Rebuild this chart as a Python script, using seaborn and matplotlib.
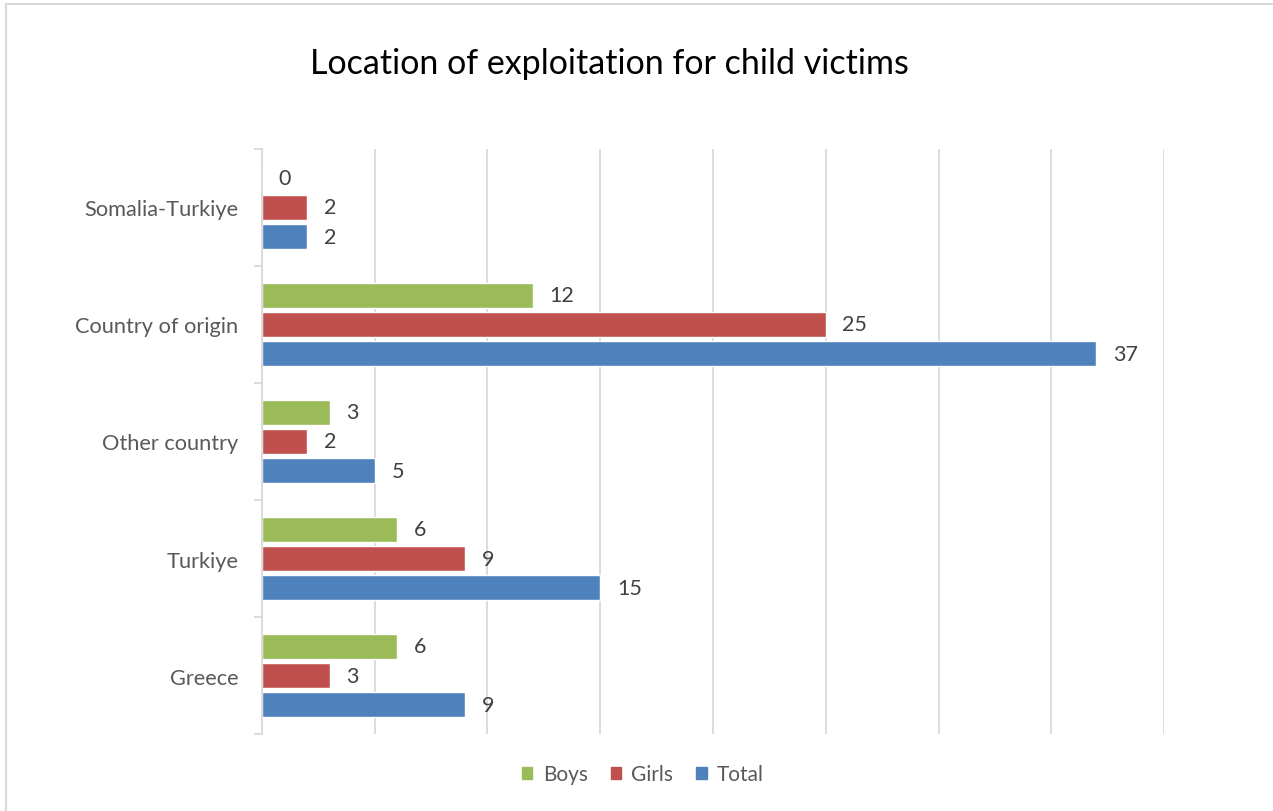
import pandas as pd
import matplotlib.pyplot as plt
import seaborn as sns
from matplotlib.patches import Patch, Rectangle

# Donnees
categories = ["Somalia-Turkiye", "Country of origin", "Other country", "Turkiye", "Greece"]
boys = [0, 12, 3, 6, 6]
girls = [2, 25, 2, 9, 3]
total = [2, 37, 5, 15, 9]
series = ["Boys", "Girls", "Total"]
colors = ["#9BBB59", "#C0504D", "#4F81BD"]

df = pd.DataFrame({"location": categories, "Boys": boys, "Girls": girls, "Total": total})
df = df.melt(id_vars="location", var_name="group", value_name="count")

sns.set_style("white")
plt.rcParams["font.family"] = ["Lato", "DejaVu Sans"]

fig = plt.figure(figsize=(12.73, 8.12), dpi=100)
ax = fig.add_axes([0.2058, 0.0948, 0.7086, 0.7205])

sns.barplot(data=df, x="count", y="location", hue="group", order=categories,
            hue_order=series, palette=colors, width=0.75, gap=0.14, orient="h",
            saturation=1, errorbar=None, legend=False, ax=ax)

# Etiquettes de valeurs
for container in ax.containers:
    ax.bar_label(container, padding=12, fontsize=15.5, color="#404040")

# Axes
ax.set_xlim(0, 40)
ax.set_xticks(range(0, 41, 5))
ax.set_xticklabels([])
ax.tick_params(axis="x", length=0)
ax.grid(axis="x", color="#D9D9D9", linewidth=1.3)
ax.set_axisbelow(True)
ax.set_ylim(4.5, -0.5)
ax.set_yticks([i - 0.5 for i in range(6)], minor=True)
ax.tick_params(axis="y", which="major", length=0, pad=17, labelsize=15.7, labelcolor="#595959")
ax.tick_params(axis="y", which="minor", length=6, color="#D9D9D9", width=1.3, left=True)
ax.set_xlabel("")
ax.set_ylabel("")
for side in ["top", "right", "bottom"]:
    ax.spines[side].set_visible(False)
ax.spines["left"].set_color("#D9D9D9")
ax.spines["left"].set_linewidth(1.3)

# Titre
fig.text(609 / 1273, 1 - 64 / 812, "Location of exploitation for child victims",
         ha="center", va="center", fontsize=24.5, color="#000000")

# Legende
handles = [Patch(facecolor=c, edgecolor=c, label=s) for s, c in zip(series, colors)]
fig.legend(handles=handles, loc="center", bbox_to_anchor=(643 / 1273, 1 - 775 / 812),
           ncol=3, frameon=False, fontsize=15, labelcolor="#595959",
           handlelength=0.5, handleheight=0.5, handletextpad=0.5, columnspacing=1.1)

# Bordure du graphique
fig.patches.append(Rectangle((6 / 1273, -0.1), 1.2, 1.1 - 5 / 812, transform=fig.transFigure,
                             fill=False, edgecolor="#D9D9D9", linewidth=1.5))

plt.savefig("out.png", dpi=100)
plt.close()
